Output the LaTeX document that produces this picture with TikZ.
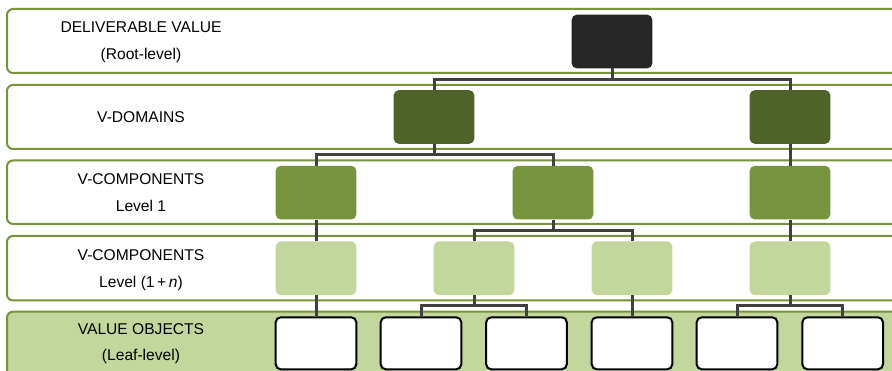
\documentclass[tikz,border=0pt]{standalone}
\usepackage{fontspec}
\setmainfont{Liberation Sans}
\definecolor{bandline}{HTML}{77933C}
\definecolor{bandfill}{HTML}{C3D69B}
\definecolor{domfill}{HTML}{4F6228}
\definecolor{lvlone}{HTML}{77933C}
\definecolor{lvln}{HTML}{C3D69B}
\definecolor{rootfill}{HTML}{262626}
\definecolor{connc}{HTML}{404040}
\tikzset{
  band/.style={draw=bandline, line width=2pt, rounded corners=6pt},
  blabel/.style={font=\fontsize{15.6}{18}\selectfont, anchor=center, inner sep=0pt},
  hbox/.style={rectangle, rounded corners=5pt, minimum width=80.6pt, minimum height=53.6pt, inner sep=0pt},
  rootbox/.style={hbox, fill=rootfill},
  dombox/.style={hbox, fill=domfill},
  onebox/.style={hbox, fill=lvlone},
  nbox/.style={hbox, fill=lvln},
  leafbox/.style={rectangle, rounded corners=5pt, minimum width=80.6pt, minimum height=52pt, inner sep=0pt, draw=black, line width=2pt, fill=white},
  conn/.style={draw=connc, line width=3pt}
}
\begin{document}
\begin{tikzpicture}[x=1pt,y=-1pt]
\clip (0,0) rectangle (892,371);
\fill[white] (0,0) rectangle (892,371);
% bands
\draw[band] (7,9) rectangle (920,73);
\draw[band] (7,85) rectangle (920,149);
\draw[band] (7,160.5) rectangle (920,224);
\draw[band] (7,236) rectangle (920,300.5);
\draw[band, fill=bandfill] (7,311.7) rectangle (920,400);
% band labels
\node[blabel] (t1a) at (141,27.5) {DELIVERABLE VALUE};
\node[blabel] (t1b) at (141,55.5) {(Root-level)};
\node[blabel] (t2) at (141,117.5) {V-DOMAINS};
\node[blabel] (t3a) at (141,179) {V-COMPONENTS};
\node[blabel] (t3b) at (141,206.3) {Level 1};
\node[blabel] (t4a) at (141,254.7) {V-COMPONENTS};
\node[blabel] (t4b) at (141,283.3) {Level (1\thinspace+\thinspace\textit{n})};
\node[blabel] (t5a) at (141,329.5) {VALUE OBJECTS};
\node[blabel] (t5b) at (141,356.7) {(Leaf-level)};
% nodes
\node[rootbox] (root) at (612,41.5) {};
\node[dombox] (d1) at (434,117) {};
\node[dombox] (d2) at (790,117) {};
\node[onebox] (a1) at (316,192.7) {};
\node[onebox] (a2) at (553,192.7) {};
\node[onebox] (a3) at (790,192.7) {};
\node[nbox] (n1) at (316,268.3) {};
\node[nbox] (n2) at (474,268.3) {};
\node[nbox] (n3) at (632,268.3) {};
\node[nbox] (n4) at (790,268.3) {};
\node[leafbox] (v1) at (316,343.3) {};
\node[leafbox] (v2) at (421,343.3) {};
\node[leafbox] (v3) at (526.5,343.3) {};
\node[leafbox] (v4) at (632,343.3) {};
\node[leafbox] (v5) at (737,343.3) {};
\node[leafbox] (v6) at (842.7,343.3) {};
% bus coordinates
\coordinate (b1) at (612,79.5);
\coordinate (b2) at (434,155);
\coordinate (b3) at (553,230.5);
\coordinate (b4) at (474,306);
\coordinate (b5) at (790,306);
% connectors
\draw[conn] (root.south) -- (b1);
\draw[conn] (d1.north) |- (b1) -| (d2.north);
\draw[conn] (d1.south) -- (b2);
\draw[conn] (a1.north) |- (b2) -| (a2.north);
\draw[conn] (d2.south) -- (a3.north);
\draw[conn] (a1.south) -- (n1.north);
\draw[conn] (a2.south) -- (b3);
\draw[conn] (n2.north) |- (b3) -| (n3.north);
\draw[conn] (a3.south) -- (n4.north);
\draw[conn] (n1.south) -- (v1.north);
\draw[conn] (n2.south) -- (b4);
\draw[conn] (v2.north) |- (b4) -| (v3.north);
\draw[conn] (n3.south) -- (v4.north);
\draw[conn] (n4.south) -- (b5);
\draw[conn] (v5.north) |- (b5) -| (v6.north);
\end{tikzpicture}
\end{document}
